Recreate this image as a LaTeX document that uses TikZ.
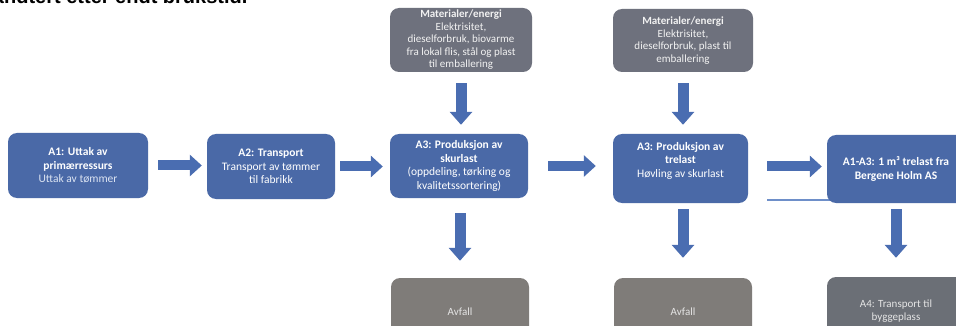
\documentclass[tikz,border=0pt]{standalone}
\usepackage{fontspec}
\setmainfont{Carlito}
\newfontfamily\topfont{Liberation Sans}
\usetikzlibrary{arrows.meta}
\definecolor{boxblue}{HTML}{4A69A7}
\definecolor{arrblue}{HTML}{4A6DB1}
\definecolor{matgrey}{HTML}{6E717D}
\definecolor{avfgrey}{HTML}{7F7C79}
\definecolor{afourgrey}{HTML}{6B6F76}
\definecolor{linblue}{HTML}{6E8FC9}
\definecolor{subtext}{HTML}{DCE4F2}
\begin{document}
\begin{tikzpicture}[x=1pt,y=-1pt,
  box/.style={rounded corners=9pt, fill=boxblue, text=white, align=center, inner sep=0pt, font=\fontsize{11.5}{13.5}\selectfont},
  matbox/.style={box, fill=matgrey, text=white!95!black, font=\fontsize{11}{12.5}\selectfont},
  botbox/.style={box, text=white!90!black, font=\fontsize{11}{13}\selectfont},
  hbig/.style={draw=arrblue, line width=10pt, -{Triangle[width=21pt,length=12pt]}},
  vbig/.style={draw=arrblue, line width=11pt, -{Triangle[width=22pt,length=13pt]}},
]
\useasboundingbox (0,0) rectangle (956,326);
\fill[white] (0,0) rectangle (956,326);

\node[anchor=base east, font=\topfont\bfseries\fontsize{20}{24}\selectfont, text=black] (cut) at (251,4) {håndtert etter endt brukstid.};

\coordinate (lstart) at (767,200);

\node[box, minimum width=140pt, minimum height=65pt] (A1) at (78,165.5)
  {\textbf{A1: Uttak av}\\\textbf{primærressurs}\\{\color{subtext}Uttak av tømmer}};
\node[box, minimum width=128pt, minimum height=65pt] (A2) at (271,166.5)
  {\textbf{A2: Transport}\\Transport av tømmer\\til fabrikk};
\node[box, minimum width=138pt, minimum height=64pt] (A3) at (459,166)
  {\textbf{A3: Produksjon av}\\\textbf{skurlast}\\(oppdeling, tørking og\\kvalitetssortering)};
\node[matbox, minimum width=142pt, minimum height=64pt] (M1) at (461,40)
  {\textbf{Materialer/energi}\\Elektrisitet,\\dieselforbruk, biovarme\\fra lokal flis, stål og plast\\til emballering};
\node[matbox, minimum width=140pt, minimum height=63pt] (M2) at (683,40.5)
  {\textbf{Materialer/energi}\\Elektrisitet,\\dieselforbruk, plast til\\emballering};

\draw[linblue, line width=1.5pt] (lstart) -- (lstart -| 840,0);

\node[box, minimum width=135pt, minimum height=69pt] (A3b) at (680.5,168.5)
  {\textbf{A3: Produksjon av}\\\textbf{trelast}\\Høvling av skurlast\\\strut};
\node[box, minimum width=138pt, minimum height=68pt] (A13) at (896,169)
  {\textbf{A1-A3: 1 m³ trelast fra}\\\textbf{Bergene Holm AS}};
\node[botbox, fill=avfgrey, minimum width=138pt, minimum height=67pt] (V1) at (460,311.5) {Avfall};
\node[botbox, fill=avfgrey, minimum width=138pt, minimum height=67pt] (V2) at (683,311.5) {Avfall};
\node[botbox, fill=afourgrey, minimum width=138pt, minimum height=68pt] (A4) at (896,311)
  {A4: Transport til\\byggeplass};

\draw[hbig, shorten <=10pt, shorten >=5pt] (A1.east) -- (A1.east -| A2.west);
\draw[hbig, shorten <=5pt, shorten >=7pt] (A2.east) -- (A2.east -| A3.west);
\draw[hbig, shorten <=20pt, shorten >=17pt] (A3.east) -- (A3.east -| A3b.west);
\draw[hbig, shorten <=19pt, shorten >=5pt] ([yshift=2pt]A3b.east) -- ([yshift=2pt]A3b.east -| A13.west);

\draw[vbig, shorten <=11pt, shorten >=9pt] (M1.south) -- (M1.south |- A3.north);
\draw[vbig, shorten <=11pt, shorten >=9pt] (M2.south) -- (M2.south |- A3b.north);
\draw[vbig, shorten <=15pt, shorten >=17pt] (V1.north |- A3.south) -- (V1.north);
\draw[vbig, shorten <=6pt, shorten >=20pt] (V2.north |- A3b.south) -- (V2.north);
\draw[vbig, shorten <=6pt, shorten >=19pt] (A13.south) -- (A13.south |- A4.north);
\end{tikzpicture}
\end{document}
